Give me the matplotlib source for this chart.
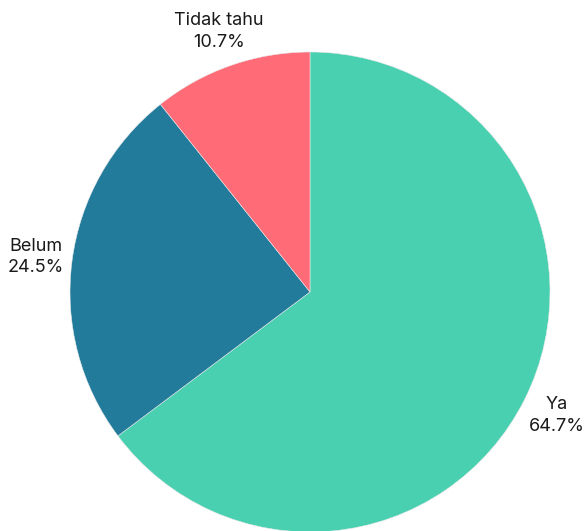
import matplotlib.pyplot as plt

# answer categories and their shares (%)
categories = ['Ya', 'Belum', 'Tidak tahu']
shares = [64.7, 24.5, 10.7]
colors = ['#48D0B0', '#227B9B', '#FF6B77']

labels = [f'{c}\n{s}%' for c, s in zip(categories, shares)]

fig = plt.figure(figsize=(5.84, 5.31), dpi=100)
ax = fig.add_axes([0, 0, 1, 1])

ax.pie(shares, labels=labels, colors=colors, startangle=90, counterclock=False,
       labeldistance=1.15, radius=1,
       wedgeprops=dict(edgecolor='#e8e8e8', linewidth=0.4),
       textprops=dict(fontsize=13, family=['Inter', 'DejaVu Sans'],
                      color='#1a1a1a', ha='center', va='center',
                      linespacing=1.35))

# pie centre sits at (310, 292) px with a 240 px radius
ax.set_xlim(-310 / 240, (584 - 310) / 240)
ax.set_ylim(-(531 - 292) / 240, 292 / 240)
ax.set_aspect('auto')
ax.axis('off')

fig.savefig('out.png', dpi=100)
